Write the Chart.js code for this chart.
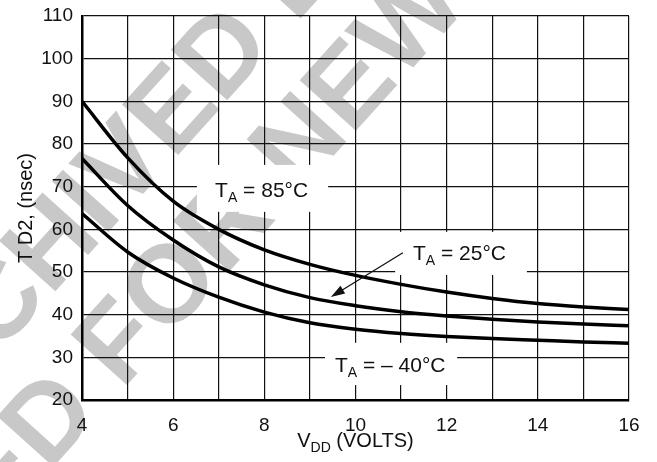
<!DOCTYPE html>
<html>
<head>
<meta charset="utf-8">
<script src="https://cdn.jsdelivr.net/npm/chart.js@4"></script>
<style>
  html, body { margin: 0; padding: 0; background: #fff; }
  #wrap { width: 657px; height: 462px; }
</style>
</head>
<body>
<div id="wrap"><canvas id="myChart"></canvas></div>
<script>
// supply voltage (V) and delay T_D2 (nsec)
var vdd = [4, 5, 6, 7, 8, 9, 10, 11, 12, 13, 14, 15, 16];
var td85 = [90, 76.8, 66.6, 60.0, 55.2, 51.8, 49.2, 47.1, 45.3, 43.8, 42.6, 41.8, 41.2];
var td25 = [76.6, 65.6, 57.5, 51.2, 47.0, 44.0, 42.1, 40.7, 39.7, 38.9, 38.3, 37.8, 37.4];
var tdm40 = [63.7, 54.7, 48.6, 44.1, 40.6, 38.1, 36.6, 35.6, 34.9, 34.4, 34.0, 33.6, 33.3];
var xTicks = [4, 6, 8, 10, 12, 14, 16];
var yTicks = [20, 30, 40, 50, 60, 70, 80, 90, 100, 110];

var FONT = "'Liberation Sans', Arial, Helvetica, sans-serif";

function pts(ys) {
  return vdd.map(function (v, i) { return { x: v, y: ys[i] }; });
}

// curve labels, placed in data units
var labels = [
  { temp: "85°C", x: 6.92, y: 67.6, box: [6.52, 9.40, 75.1, 64.1] },
  { temp: "25°C", x: 11.26, y: 52.8, box: [10.87, 13.76, 59.4, 49.3] },
  { temp: "– 40°C", x: 9.55, y: 26.6, box: [9.33, 12.23, 33.4, 23.5] }
];
var arrow = { from: [11.04, 54.5], to: [9.46, 44.15] };

var watermark = {
  id: "watermark",
  beforeDraw: function (chart) {
    var c = chart.ctx;
    c.save();
    c.fillStyle = "#c8c8c8";
    c.font = "bold 110px " + FONT;
    c.rotate(-48 * Math.PI / 180);
    var l1 = "ARCHIVED BY FREESCALE SEMICONDUCTOR, INC.";
    var u1 = -40 - c.measureText("ARCHI").width - c.measureText("V").width / 2;
    c.fillText(l1, u1, 236);
    var l2 = "NOT RECOMMENDED FOR NEW DESIGN";
    var u2 = 94 - c.measureText("NOT RECOMMENDED FOR ").width - c.measureText("N").width / 2;
    c.fillText(l2, u2, 352);
    c.restore();
  }
};

function subText(c, parts, x, y) {
  // parts: [text, size, dy]
  parts.forEach(function (p) {
    c.font = p[1] + "px " + FONT;
    c.fillText(p[0], x, y + p[2]);
    x += c.measureText(p[0]).width;
  });
  return x;
}

var annotations = {
  id: "annotations",
  beforeDatasetsDraw: function (chart) {
    var c = chart.ctx, xs = chart.scales.x, ys = chart.scales.y;
    c.save();
    c.fillStyle = "#fff";
    labels.forEach(function (l) {
      var x0 = xs.getPixelForValue(l.box[0]), x1 = xs.getPixelForValue(l.box[1]);
      var y0 = ys.getPixelForValue(l.box[2]), y1 = ys.getPixelForValue(l.box[3]);
      c.fillRect(x0, y0, x1 - x0, y1 - y0);
    });
    c.restore();
  },
  afterDraw: function (chart) {
    var c = chart.ctx, xs = chart.scales.x, ys = chart.scales.y;
    c.save();
    c.fillStyle = "#111";
    c.textBaseline = "alphabetic";
    c.textAlign = "left";
    labels.forEach(function (l) {
      subText(c, [["T", 21, 0], ["A", 14, 5], [" = " + l.temp, 21, 0]],
        xs.getPixelForValue(l.x), ys.getPixelForValue(l.y));
    });

    // arrow to the 25°C curve
    var ax = xs.getPixelForValue(arrow.from[0]), ay = ys.getPixelForValue(arrow.from[1]);
    var bx = xs.getPixelForValue(arrow.to[0]), by = ys.getPixelForValue(arrow.to[1]);
    var ang = Math.atan2(by - ay, bx - ax);
    c.strokeStyle = "#111";
    c.lineWidth = 1.3;
    c.beginPath();
    c.moveTo(ax, ay);
    c.lineTo(bx - 10 * Math.cos(ang), by - 10 * Math.sin(ang));
    c.stroke();
    c.beginPath();
    c.moveTo(bx, by);
    c.lineTo(bx - 14 * Math.cos(ang) + 4.5 * Math.sin(ang), by - 14 * Math.sin(ang) - 4.5 * Math.cos(ang));
    c.lineTo(bx - 14 * Math.cos(ang) - 4.5 * Math.sin(ang), by - 14 * Math.sin(ang) + 4.5 * Math.cos(ang));
    c.closePath();
    c.fill();

    // axis titles with subscripts
    c.font = "20px " + FONT;
    var w = c.measureText("V").width + c.measureText(" (VOLTS)").width;
    c.font = "14px " + FONT;
    w += c.measureText("DD").width;
    var cx = (chart.chartArea.left + chart.chartArea.right) / 2;
    subText(c, [["V", 20, 0], ["DD", 14, 5], [" (VOLTS)", 20, 0]], cx - w / 2, 447);

    c.translate(32, (chart.chartArea.top + chart.chartArea.bottom) / 2);
    c.rotate(-Math.PI / 2);
    c.font = "20px " + FONT;
    c.textAlign = "center";
    c.fillText("T D2, (nsec)", 0, 0);
    c.restore();
  }
};

var ctx = document.getElementById("myChart").getContext("2d");
var lineStyle = {
  borderColor: "#000",
  borderWidth: 3.5,
  pointRadius: 0,
  fill: false,
  cubicInterpolationMode: "monotone"
};
var myChart = new Chart(ctx, {
  type: "line",
  data: {
    datasets: [
      Object.assign({ label: "85°C", data: pts(td85) }, lineStyle),
      Object.assign({ label: "25°C", data: pts(td25) }, lineStyle),
      Object.assign({ label: "-40°C", data: pts(tdm40) }, lineStyle)
    ]
  },
  options: {
    responsive: true,
    maintainAspectRatio: false,
    animation: false,
    layout: { padding: { top: 16, right: 28, bottom: 0, left: 0 } },
    scales: {
      x: {
        type: "linear",
        min: 4,
        max: 16,
        afterFit: function (s) {
          s.height = 62;
          s.paddingLeft = 0;
          s.paddingRight = 0;
        },
        ticks: {
          stepSize: 1,
          autoSkip: false,
          maxRotation: 0,
          padding: 14,
          color: "#111",
          font: { family: FONT, size: 19 },
          callback: function (v) { return xTicks.indexOf(v) >= 0 ? String(v) : ""; }
        },
        grid: { color: "#111", lineWidth: 1.2, drawTicks: false },
        border: { color: "#000", width: 2.5 }
      },
      y: {
        min: 20,
        max: 110,
        afterFit: function (s) {
          s.width = 82;
          s.paddingTop = 0;
          s.paddingBottom = 0;
        },
        ticks: {
          stepSize: 10,
          padding: 9,
          color: "#111",
          font: { family: FONT, size: 19 },
          callback: function (v) { return yTicks.indexOf(v) >= 0 ? String(v) : ""; }
        },
        grid: { color: "#111", lineWidth: 1.2, drawTicks: false },
        border: { color: "#000", width: 2.5 }
      }
    },
    plugins: {
      legend: { display: false },
      tooltip: { enabled: false }
    }
  },
  plugins: [watermark, annotations]
});
</script>
</body>
</html>
